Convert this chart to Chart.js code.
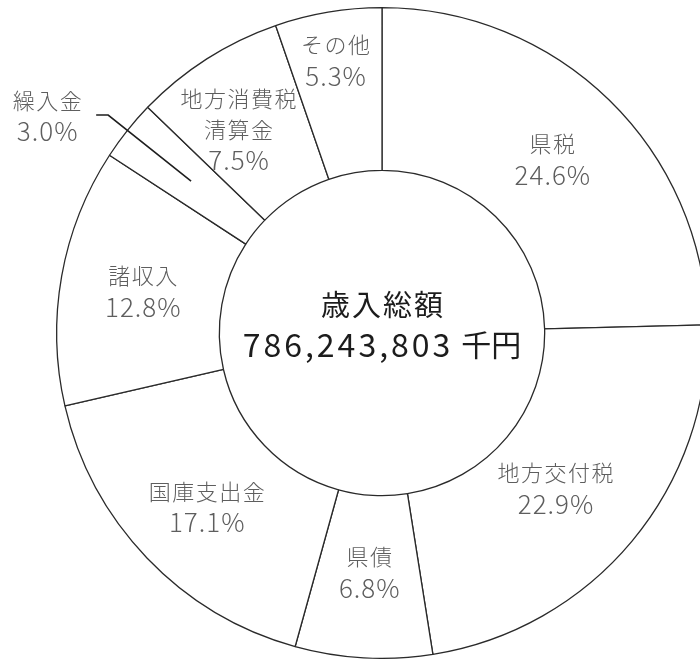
<!DOCTYPE html>
<html>
<head>
<meta charset="utf-8">
<script src="https://cdn.jsdelivr.net/npm/chart.js@4"></script>
<style>
  html, body { margin: 0; padding: 0; background: #fff; overflow: hidden; width: 700px; height: 659px; }
  #wrap { position: absolute; left: 0; top: 0; width: 708px; height: 659px; }
</style>
</head>
<body>
<div id="wrap"><canvas id="c"></canvas></div>
<script>
// ---- data ----
const categories = ['県税', '地方交付税', '県債', '国庫支出金', '諸収入', '繰入金', '地方消費税清算金', 'その他'];
const shares = [24.6, 22.9, 6.8, 17.1, 12.8, 3.0, 7.5, 5.3];
const categoryLines = [['県税'], ['地方交付税'], ['県債'], ['国庫支出金'], ['諸収入'], ['繰入金'], ['地方消費税', '清算金'], ['その他']];
const totalTitle = '歳入総額';
const totalValue = '786,243,803';
const totalUnit = '千円';

// ---- layout / style (not data) ----
const labelStyle = {
  cjkFont: '300 22px "Noto Sans CJK JP", "Noto Sans CJK SC", sans-serif',
  numFont: '300 26px "Noto Sans CJK JP", "Noto Sans CJK SC", sans-serif',
  color: '#5e5e5e',
  lineHeight: 31,
  cjkSpacing: '1.5px',
  numSpacing: '1px'
};
// per-slice nudges relative to ring mid-radius at mid-angle: [dx, dy]
const labelNudge = [[0, 1], [-14, -1], [1, -4], [1, 5], [1, 1], [0, 0], [-12, 2], [-6, -32]];
const outsideIndex = 5; // 繰入金 drawn outside with leader line
const leaderRadius = 350;
const leaderTail = 12;

const labelPlugin = {
  id: 'labels',
  afterDatasetsDraw(chart) {
    const ctx = chart.ctx;
    const meta = chart.getDatasetMeta(0);
    ctx.save();
    ctx.textAlign = 'center';
    ctx.textBaseline = 'middle';
    meta.data.forEach((arc, i) => {
      const p = arc.getProps(['x', 'y', 'startAngle', 'endAngle', 'innerRadius', 'outerRadius'], true);
      const mid = (p.startAngle + p.endAngle) / 2;
      const rMid = (p.innerRadius + p.outerRadius) / 2;
      const lines = categoryLines[i].concat([shares[i].toFixed(1) + '%']);
      let cx, cy;
      if (i === outsideIndex) {
        const ex = p.x + Math.cos(mid) * rMid, ey = p.y + Math.sin(mid) * rMid;
        const bx = p.x + Math.cos(mid) * leaderRadius, by = p.y + Math.sin(mid) * leaderRadius;
        ctx.beginPath();
        ctx.strokeStyle = '#1e1e1e';
        ctx.lineWidth = 1.6;
        ctx.moveTo(ex, ey);
        ctx.lineTo(bx, by);
        ctx.lineTo(bx - leaderTail, by);
        ctx.stroke();
        cx = bx - leaderTail - 49;
        cy = by + 1;
      } else {
        cx = p.x + Math.cos(mid) * rMid + labelNudge[i][0];
        cy = p.y + Math.sin(mid) * rMid + labelNudge[i][1];
      }
      ctx.fillStyle = labelStyle.color;
      const n = lines.length;
      lines.forEach((t, k) => {
        const isNum = k === n - 1;
        ctx.font = isNum ? labelStyle.numFont : labelStyle.cjkFont;
        ctx.letterSpacing = isNum ? labelStyle.numSpacing : labelStyle.cjkSpacing;
        const ly = cy + (k - (n - 1) / 2) * labelStyle.lineHeight;
        ctx.fillText(t, cx + (isNum ? 0.5 : 0.75), ly);
      });
    });
    // centre text
    const p0 = meta.data[0].getProps(['x', 'y'], true);
    ctx.fillStyle = '#1c1c1c';
    ctx.letterSpacing = '2px';
    ctx.font = '400 29px "Noto Sans CJK JP", "Noto Sans CJK SC", sans-serif';
    ctx.fillText(totalTitle, p0.x + 1, p0.y - 28);
    ctx.textAlign = 'left';
    ctx.font = '400 32px "Noto Sans CJK JP", "Noto Sans CJK SC", sans-serif';
    ctx.letterSpacing = '3px';
    const wd = ctx.measureText(totalValue).width - 3;
    ctx.letterSpacing = '0px';
    ctx.font = '400 30px "Noto Sans CJK JP", "Noto Sans CJK SC", sans-serif';
    const wu = ctx.measureText(totalUnit).width;
    const gap = 11;
    const x0 = p0.x - (wd + gap + wu) / 2;
    ctx.font = '400 32px "Noto Sans CJK JP", "Noto Sans CJK SC", sans-serif';
    ctx.letterSpacing = '3px';
    ctx.fillText(totalValue, x0, p0.y + 12);
    ctx.letterSpacing = '0px';
    ctx.font = '400 30px "Noto Sans CJK JP", "Noto Sans CJK SC", sans-serif';
    ctx.fillText(totalUnit, x0 + wd + gap, p0.y + 12);
    ctx.restore();
  }
};

new Chart(document.getElementById('c'), {
  type: 'doughnut',
  data: {
    labels: categories,
    datasets: [{
      data: shares,
      backgroundColor: '#ffffff',
      borderColor: '#2a2a2a',
      borderWidth: 1.3,
      hoverOffset: 0
    }]
  },
  options: {
    responsive: true,
    maintainAspectRatio: false,
    animation: false,
    cutout: '50%',
    layout: { padding: { left: 56, top: 7, right: 0, bottom: 0 } },
    plugins: { legend: { display: false }, tooltip: { enabled: false } },
    events: []
  },
  plugins: [labelPlugin]
});
</script>
</body>
</html>
